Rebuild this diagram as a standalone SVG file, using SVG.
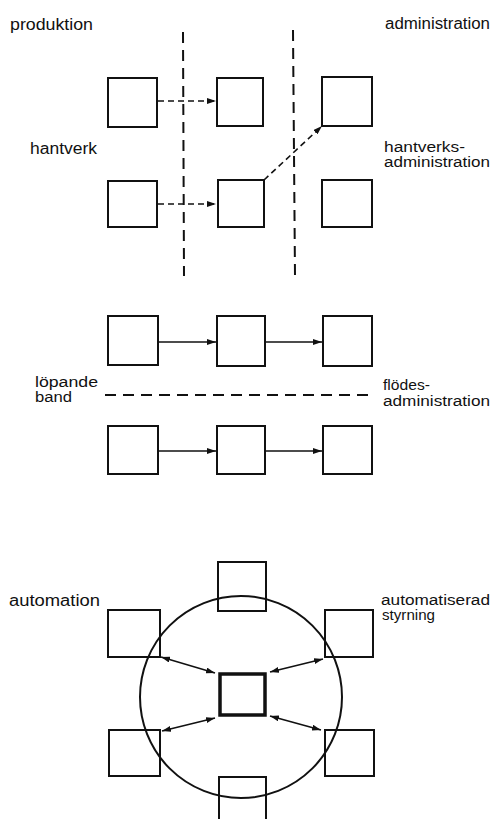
<svg xmlns="http://www.w3.org/2000/svg" width="492" height="819" viewBox="0 0 492 819">
<style>
.bg{fill:#fff}
.box{fill:none;stroke:#111;stroke-width:2}
.core{fill:#fff;stroke:#111;stroke-width:3.5}
.sep{fill:none;stroke:#111;stroke-width:2;stroke-dasharray:11 7}
.dash{fill:none;stroke:#111;stroke-width:1.6;stroke-dasharray:6 4}
.solid{fill:none;stroke:#111;stroke-width:1.6}
.ring{fill:none;stroke:#111;stroke-width:2}
text{font-family:"Liberation Sans",Arial,sans-serif;font-size:16px;fill:#111}
text.s{font-size:14px}
</style>
<defs>
<marker id="ah" viewBox="0 0 9 6" refX="9" refY="3" markerWidth="9" markerHeight="6" markerUnits="userSpaceOnUse" orient="auto-start-reverse">
<path d="M0,0 L9,3 L0,6 z" fill="#111"/>
</marker>
</defs>
<rect class="bg" x="0" y="0" width="492" height="819"/>

<g id="labels">
<text x="10" y="30" textLength="83" lengthAdjust="spacingAndGlyphs">produktion</text>
<text x="385" y="29" textLength="105" lengthAdjust="spacingAndGlyphs">administration</text>
<text x="30" y="154" textLength="67" lengthAdjust="spacingAndGlyphs">hantverk</text>
<text class="s" x="384" y="152" textLength="81" lengthAdjust="spacingAndGlyphs">hantverks-</text>
<text class="s" x="384" y="167" textLength="106" lengthAdjust="spacingAndGlyphs">administration</text>
<text class="s" x="35" y="387" textLength="63" lengthAdjust="spacingAndGlyphs">löpande</text>
<text class="s" x="35" y="402" textLength="37" lengthAdjust="spacingAndGlyphs">band</text>
<text class="s" x="383" y="390" textLength="47" lengthAdjust="spacingAndGlyphs">flödes-</text>
<text class="s" x="383" y="406" textLength="107" lengthAdjust="spacingAndGlyphs">administration</text>
<text x="9" y="606" textLength="91" lengthAdjust="spacingAndGlyphs">automation</text>
<text class="s" x="381" y="605" textLength="109" lengthAdjust="spacingAndGlyphs">automatiserad</text>
<text class="s" x="382" y="620" textLength="53" lengthAdjust="spacingAndGlyphs">styrning</text>
</g>

<g id="separators">
<line class="sep" x1="183" y1="32" x2="184" y2="276"/>
<line class="sep" x1="293" y1="30" x2="295" y2="276"/>
<line class="sep" x1="105" y1="395" x2="372" y2="395"/>
</g>

<g id="craft">
<rect id="c1" class="box" x="108" y="78" width="49" height="49"/>
<rect id="c2" class="box" x="217" y="78" width="46" height="48"/>
<rect id="c3" class="box" x="322" y="77" width="50" height="49"/>
<rect id="c4" class="box" x="108" y="181" width="49" height="46"/>
<rect id="c5" class="box" x="218" y="180" width="46" height="47"/>
<rect id="c6" class="box" x="322" y="180" width="50" height="47"/>
</g>

<g id="line">
<rect id="l1" class="box" x="108" y="316" width="50" height="49"/>
<rect id="l2" class="box" x="217" y="316" width="48" height="50"/>
<rect id="l3" class="box" x="323" y="316" width="49" height="50"/>
<rect id="l4" class="box" x="108" y="426" width="50" height="48"/>
<rect id="l5" class="box" x="217" y="426" width="48" height="48"/>
<rect id="l6" class="box" x="323" y="426" width="49" height="48"/>
</g>

<g id="auto">
<rect id="a-top" class="box" x="218" y="562" width="48" height="49"/>
<rect id="a-lt" class="box" x="108" y="610" width="52" height="47"/>
<rect id="a-rt" class="box" x="325" y="610" width="48" height="47"/>
<rect id="a-lb" class="box" x="109" y="730" width="51" height="46"/>
<rect id="a-rb" class="box" x="325" y="730" width="49" height="46"/>
<rect id="a-bot" class="box" x="219" y="777" width="47" height="60"/>
<circle id="ring" class="ring" cx="241" cy="697" r="101"/>
<rect id="a-core" class="core" x="220" y="674" width="45" height="41"/>
</g>

<g id="connectors">
<line class="dash" x1="158" y1="101" x2="216" y2="101" marker-end="url(#ah)"/>
<line class="dash" x1="158" y1="204" x2="216" y2="204" marker-end="url(#ah)"/>
<line class="dash" x1="264" y1="180" x2="322" y2="126" marker-end="url(#ah)"/>
<line class="solid" x1="158" y1="342" x2="216" y2="342" marker-end="url(#ah)"/>
<line class="solid" x1="265" y1="342" x2="322" y2="342" marker-end="url(#ah)"/>
<line class="solid" x1="158" y1="451" x2="216" y2="451" marker-end="url(#ah)"/>
<line class="solid" x1="265" y1="451" x2="322" y2="451" marker-end="url(#ah)"/>
<line class="solid" x1="161" y1="657" x2="215" y2="673" marker-start="url(#ah)" marker-end="url(#ah)"/>
<line class="solid" x1="323" y1="659" x2="270" y2="672" marker-start="url(#ah)" marker-end="url(#ah)"/>
<line class="solid" x1="162" y1="731" x2="215" y2="718" marker-start="url(#ah)" marker-end="url(#ah)"/>
<line class="solid" x1="321" y1="730" x2="270" y2="716" marker-start="url(#ah)" marker-end="url(#ah)"/>
</g>
</svg>
